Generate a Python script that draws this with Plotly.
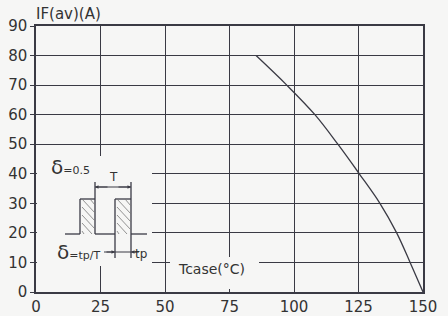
import plotly.graph_objects as go

# ---- data ----
tcase = [85.3, 97.2, 108.1, 117.0, 125.3, 133.3, 139.8, 145.0, 150]
if_av = [80, 70, 60, 50, 40, 30, 20, 10, 0]
x_ticks = [0, 25, 50, 75, 100, 125, 150]
y_ticks = [0, 10, 20, 30, 40, 50, 60, 70, 80, 90]

W, H = 448, 316
L, R, T, B = 36, 25, 26, 24
PW, PH = W - L - R, H - T - B
BG = "#f6f6f5"
INK = "#3a3a44"
TXT = "#333333"


def d(px, py):
    """convert pixel position in the figure to data coordinates"""
    return ((px - L) / PW * 150.0, (H - B - py) / PH * 90.0)


def p(px, py):
    """convert pixel position in the figure to paper coordinates"""
    return ((px - L) / PW, (H - B - py) / PH)


fig = go.Figure()
fig.add_trace(go.Scatter(x=tcase, y=if_av, mode="lines",
                         line=dict(color=INK, width=1.3, shape="spline", smoothing=1.0),
                         hoverinfo="skip", showlegend=False))

shapes = []


def box(x0, y0, x1, y1):
    a, b = d(x0, y0)
    c, e = d(x1, y1)
    shapes.append(dict(type="rect", xref="x", yref="y", x0=a, y0=b, x1=c, y1=e,
                       fillcolor=BG, line=dict(width=0), layer="between"))


def seg(x0, y0, x1, y1, w=1.3, color=INK):
    a, b = d(x0, y0)
    c, e = d(x1, y1)
    shapes.append(dict(type="line", xref="x", yref="y", x0=a, y0=b, x1=c, y1=e,
                       line=dict(color=color, width=w), layer="above"))


# blank areas hiding grid behind inset and axis title
box(37, 156, 152, 266)
box(170, 257, 259, 289)

# waveform
base, top = 234, 199
seg(65, base, 80, base)
seg(80, base, 80, top)
seg(80, top, 95, top)
seg(95, top, 95, base)
seg(95, base, 115, base)
seg(115, base, 115, top)
seg(115, top, 131, top)
seg(131, top, 131, base)
seg(131, base, 147, base)


# hatching inside pulses (down-right diagonals)
def hatch(x0, x1):
    for k in range(-3, 6):
        sx, sy = x0, top + k * 8
        ex, ey = x1, sy + (x1 - x0)
        if sy < top:
            sx, sy = x0 + (top - sy), top
        if ey > base:
            ex, ey = ex - (ey - base), base
        if sx < ex and sy < ey:
            seg(sx + 1, sy, ex, ey, w=0.8, color="#777777")


hatch(81, 95)
hatch(116, 131)

# T dimension
seg(95, 182, 95, top)
seg(131, 182, 131, top)
seg(95, 187, 131, 187, w=1)
# tp dimension
seg(115, base, 115, 258)
seg(131, base, 131, 258)
seg(104, 252, 139, 252, w=1)

anns = []


def text(px, py, s, size, xanchor="left"):
    x, y = p(px, py)
    anns.append(dict(x=x, y=y, xref="paper", yref="paper", text=s, showarrow=False,
                     xanchor=xanchor, yanchor="middle",
                     font=dict(family="DejaVu Sans", size=size, color=TXT)))


def arrow(hx, hy, dx):
    x, y = p(hx, hy)
    anns.append(dict(x=x, y=y, xref="paper", yref="paper", text="", showarrow=True,
                     ax=dx, ay=0,
                     arrowhead=2, arrowsize=0.7, arrowwidth=1, arrowcolor=INK))


arrow(95, 187, 14)
arrow(131, 187, -14)
arrow(115, 252, -10)
arrow(131, 252, 8)

text(49, 167, "<span style='font-size:20px'>δ</span>=0.5", 11)
text(113, 177, "T", 12, "center")
text(55, 252, "<span style='font-size:20px'>δ</span>=tp/T", 11)
text(133, 254, "tp", 12)
text(176, 269, "Tcase(°C)", 14)
text(34, 14, "IF(av)(A)", 15)

fig.update_layout(
    width=W, height=H,
    margin=dict(l=L, r=R, t=T, b=B, autoexpand=False),
    paper_bgcolor=BG, plot_bgcolor=BG,
    shapes=shapes, annotations=anns,
    font=dict(family="DejaVu Sans", size=15, color=TXT),
    xaxis=dict(range=[0, 150], tickvals=x_ticks, ticktext=[str(v) for v in x_ticks],
               showgrid=True, gridcolor=INK, gridwidth=1.2, automargin=False,
               showline=True, linecolor=INK, linewidth=1.5, mirror=True,
               ticks="", zeroline=False, fixedrange=True,
               tickfont=dict(size=15, color=TXT)),
    yaxis=dict(range=[0, 90], tickvals=y_ticks, ticktext=[str(v) for v in y_ticks],
               showgrid=True, gridcolor=INK, gridwidth=1.2, automargin=False,
               showline=True, linecolor=INK, linewidth=1.5, mirror=True,
               ticks="outside", ticklen=4, tickcolor=INK, zeroline=False,
               fixedrange=True, tickfont=dict(size=15, color=TXT)),
)

fig.write_html("out.html", config={"displayModeBar": False},
               post_script="document.body.style.margin='0';document.body.style.overflow='hidden';")
